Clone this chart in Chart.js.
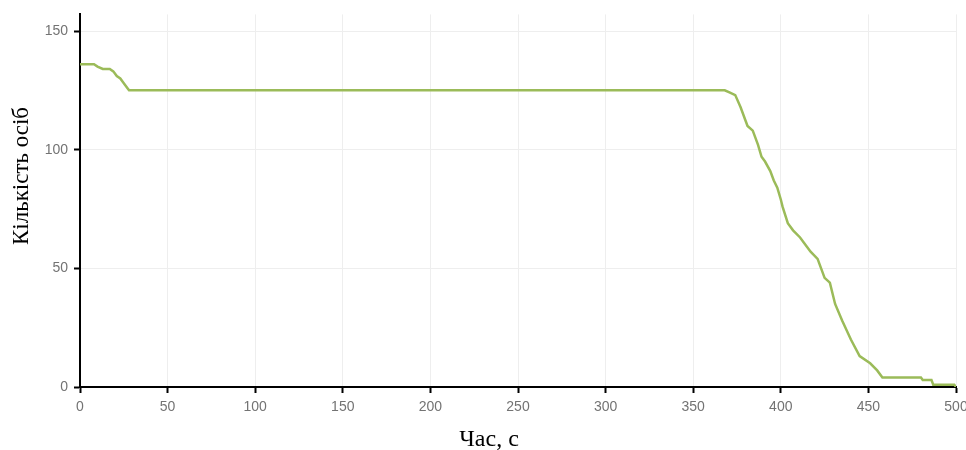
<!DOCTYPE html>
<html>
<head>
<meta charset="utf-8">
<script src="https://cdn.jsdelivr.net/npm/chart.js@4"></script>
<style>
  html, body { margin: 0; padding: 0; background: #fff; }
  #wrap { width: 966px; height: 450px; }
</style>
</head>
<body>
<div id="wrap"><canvas id="chart" width="966" height="450"></canvas></div>
<script>
// час, с
const times = [0, 8, 10, 13, 17, 19, 21, 23, 25, 27, 28, 366, 368, 371, 374, 377, 380, 381, 384, 385,
  387, 389, 391, 394, 396, 398, 400, 401, 404, 407, 411, 415, 417, 421, 422, 425, 428, 431, 435, 440,
  445, 451, 455, 458, 480, 481, 486, 487, 499, 500];
// кількість осіб
const people = [136, 136, 135, 134, 134, 133, 131, 130, 128, 126, 125, 125, 125, 124, 123, 118, 112, 110, 108, 106,
  102, 97, 95, 91, 87, 84, 79, 76, 69, 66, 63, 59, 57, 54, 52, 46, 44, 35, 28, 20,
  13, 10, 7, 4, 4, 3, 3, 1, 1, 0];

const xTitle = "Час, с";
const yTitle = "Кількість осіб";

const points = times.map((t, i) => ({ x: t, y: people[i] }));

// axis titles drawn by hand, they sit a bit off-center in the original
const titles = {
  id: "titles",
  afterDraw(chart) {
    const ctx = chart.ctx;
    ctx.save();
    ctx.fillStyle = "#000";
    ctx.textAlign = "center";
    ctx.textBaseline = "middle";
    ctx.font = "24px 'Liberation Serif', 'Times New Roman', serif";
    ctx.fillText(xTitle, 489, 440);
    ctx.font = "23px 'Liberation Serif', 'Times New Roman', serif";
    ctx.translate(22, 176);
    ctx.rotate(-Math.PI / 2);
    ctx.fillText(yTitle, 0, 0);
    ctx.restore();
  }
};

const tickFont = { family: "'Liberation Sans', Arial, sans-serif", size: 14 };

new Chart(document.getElementById("chart").getContext("2d"), {
  type: "line",
  data: {
    datasets: [{
      data: points,
      borderColor: "#9bbb59",
      borderWidth: 2.5,
      pointRadius: 0,
      tension: 0,
      fill: false
    }]
  },
  options: {
    responsive: false,
    animation: false,
    layout: { padding: { top: 12, right: 10, left: 0, bottom: 0 } },
    plugins: { legend: { display: false }, tooltip: { enabled: false } },
    scales: {
      x: {
        type: "linear",
        min: 0,
        max: 500,
        ticks: { stepSize: 50, color: "#737373", font: tickFont, padding: 6, maxRotation: 0 },
        grid: { color: "#eeeeee", tickColor: "#000", tickLength: 6, tickWidth: 2 },
        border: { color: "#000", width: 2 },
        afterFit(scale) {
          scale.height = 63;
          scale.paddingRight = 0;
          scale.paddingLeft = 0;
        }
      },
      y: {
        min: 0,
        max: 157,
        ticks: { stepSize: 50, color: "#737373", font: tickFont, padding: 6 },
        grid: { color: "#eeeeee", tickColor: "#000", tickLength: 6, tickWidth: 2 },
        border: { color: "#000", width: 2 },
        afterBuildTicks(scale) {
          scale.ticks = scale.ticks.filter(t => t.value % 50 === 0);
        },
        afterFit(scale) {
          scale.width = 80;
        }
      }
    }
  },
  plugins: [titles]
});
</script>
</body>
</html>
